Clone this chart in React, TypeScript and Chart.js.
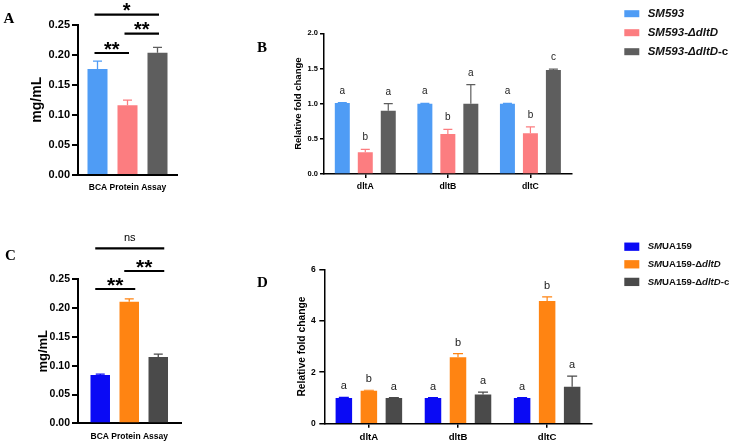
import React, { useEffect, useRef } from 'react';
import { Chart, registerables } from 'chart.js';

Chart.register(...registerables);

const SANS = '"Liberation Sans", Arial, Helvetica, sans-serif';
const SERIF = '"Liberation Serif", "Times New Roman", serif';

// ---------------- data ----------------
const assayLabel = ['BCA Protein Assay'];
const geneLabels = ['dltA', 'dltB', 'dltC'];

// SM593 background
const sm593Bca = [0.176, 0.116, 0.203];
const sm593BcaSd = [0.013, 0.0085, 0.009];
const sm593WtFold = [1.01, 1.0, 1.0];
const sm593WtFoldSd = [0.004, 0.003, 0.003];
const sm593MutFold = [0.31, 0.57, 0.58];
const sm593MutFoldSd = [0.04, 0.065, 0.09];
const sm593CompFold = [0.9, 1.0, 1.48];
const sm593CompFoldSd = [0.1, 0.27, 0.012];
const sm593WtGroups = ['a', 'a', 'a'];
const sm593MutGroups = ['b', 'b', 'b'];
const sm593CompGroups = ['a', 'a', 'c'];

// UA159 background
const ua159Bca = [0.084, 0.211, 0.115];
const ua159BcaSd = [0.0012, 0.005, 0.005];
const ua159WtFold = [1.0, 1.0, 1.0];
const ua159WtFoldSd = [0.02, 0.01, 0.01];
const ua159MutFold = [1.28, 2.58, 4.77];
const ua159MutFoldSd = [0.02, 0.14, 0.16];
const ua159CompFold = [1.0, 1.13, 1.44];
const ua159CompFoldSd = [0.01, 0.1, 0.41];
const ua159WtGroups = ['a', 'a', 'a'];
const ua159MutGroups = ['b', 'b', 'b'];
const ua159CompGroups = ['a', 'a', 'a'];

type Run = [string, boolean]; // [text, italic]

const sm593Names: Run[][] = [
  [['SM593', true]],
  [['SM593-ΔdltD', true]],
  [['SM593-ΔdltD', true], ['-c', false]],
];
const ua159Names: Run[][] = [
  [['SM', true], ['UA159', false]],
  [['SM', true], ['UA159-Δ', false], ['dltD', true]],
  [['SM', true], ['UA159-Δ', false], ['dltD', true], ['-c', false]],
];

const sm593Colors = ['#4f9cf5', '#fc7d80', '#5e5e5e'];
const ua159Colors = ['#0a0af5', '#ff8412', '#4a4a4a'];

interface Bracket { from: number; to: number; label: string }
const sm593BcaPairs: Bracket[] = [
  { from: 0, to: 1, label: '**' },
  { from: 1, to: 2, label: '**' },
  { from: 0, to: 2, label: '*' },
];
const ua159BcaPairs: Bracket[] = [
  { from: 0, to: 1, label: '**' },
  { from: 1, to: 2, label: '**' },
  { from: 0, to: 2, label: 'ns' },
];

// ---------------- panel layout ----------------
interface Series { name: Run[]; color: string; values: number[]; errors: number[]; groups?: string[] }

interface PanelSpec {
  tag: string; tagX: number; tagY: number;
  box: { x: number; y: number; w: number; h: number };
  plot: { left: number; right: number; top: number; bottom: number };
  categories: string[];
  series: Series[];
  yMax: number; yStep: number; decimals: number;
  yTitle: string; yTitleSize: number; yTitleX: number;
  tickSize: number; tickLen: number; tickPad: number;
  xSize: number; xTickLen: number; xPad: number;
  axisWidth: number;
  catPct: number; barPct: number;
  errWidth: number; cap: number;
  groupSize?: number; groupGap?: number;
  brackets?: Bracket[]; bracketRows?: number[]; bracketReach?: [number, number]; starSize?: number;
  legend?: { boxX: number; rowY: number; rowGap: number; boxW: number; boxH: number; textX: number; size: number };
}

function bcaSeries(values: number[], errors: number[], names: Run[][], colors: string[]): Series[] {
  return values.map((v, i) => ({ name: names[i], color: colors[i], values: [v], errors: [errors[i]] }));
}

const panelA: PanelSpec = {
  tag: 'A', tagX: 3.5, tagY: 23.3,
  box: { x: 0, y: 0, w: 250, h: 220 },
  plot: { left: 78, right: 177, top: 24.5, bottom: 175 },
  categories: assayLabel,
  series: bcaSeries(sm593Bca, sm593BcaSd, sm593Names, sm593Colors),
  yMax: 0.25, yStep: 0.05, decimals: 2,
  yTitle: 'mg/mL', yTitleSize: 14, yTitleX: 37,
  tickSize: 11, tickLen: 6, tickPad: 2,
  xSize: 8.5, xTickLen: 0, xPad: 7.5,
  axisWidth: 2,
  catPct: 0.909, barPct: 0.667,
  errWidth: 1.3, cap: 9,
  brackets: sm593BcaPairs, bracketRows: [53, 33.7, 14.7], bracketReach: [-3, 1.5], starSize: 20,
};

const panelB: PanelSpec = {
  tag: 'B', tagX: 257, tagY: 52,
  box: { x: 250, y: 0, w: 484, h: 220 },
  plot: { left: 324, right: 571.7, top: 33.3, bottom: 174 },
  categories: geneLabels,
  series: [
    { name: sm593Names[0], color: sm593Colors[0], values: sm593WtFold, errors: sm593WtFoldSd, groups: sm593WtGroups },
    { name: sm593Names[1], color: sm593Colors[1], values: sm593MutFold, errors: sm593MutFoldSd, groups: sm593MutGroups },
    { name: sm593Names[2], color: sm593Colors[2], values: sm593CompFold, errors: sm593CompFoldSd, groups: sm593CompGroups },
  ],
  yMax: 2, yStep: 0.5, decimals: 1,
  yTitle: 'Relative fold change', yTitleSize: 9.5, yTitleX: 298,
  tickSize: 7.5, tickLen: 4, tickPad: 2,
  xSize: 8.7, xTickLen: 4, xPad: 3.5,
  axisWidth: 1.5,
  catPct: 0.835, barPct: 0.652,
  errWidth: 1.2, cap: 9,
  groupSize: 10, groupGap: 9,
  legend: { boxX: 624.3, rowY: 13.7, rowGap: 19, boxW: 15, boxH: 7, textX: 647.7, size: 11.5 },
};

const panelC: PanelSpec = {
  tag: 'C', tagX: 5, tagY: 259.5,
  box: { x: 0, y: 220, w: 250, h: 222 },
  plot: { left: 78, right: 180.5, top: 279.3, bottom: 423.3 },
  categories: assayLabel,
  series: bcaSeries(ua159Bca, ua159BcaSd, ua159Names, ua159Colors),
  yMax: 0.25, yStep: 0.05, decimals: 2,
  yTitle: 'mg/mL', yTitleSize: 13, yTitleX: 43,
  tickSize: 10.5, tickLen: 6, tickPad: 2,
  xSize: 8.5, xTickLen: 0, xPad: 8.7,
  axisWidth: 2,
  catPct: 0.849, barPct: 0.672,
  errWidth: 1.3, cap: 9,
  brackets: ua159BcaPairs, bracketRows: [289, 271, 248.3], bracketReach: [-5, 6], starSize: 21,
};

const panelD: PanelSpec = {
  tag: 'D', tagX: 257, tagY: 287,
  box: { x: 250, y: 220, w: 484, h: 222 },
  plot: { left: 324.3, right: 591.7, top: 269.3, bottom: 423.7 },
  categories: geneLabels,
  series: [
    { name: ua159Names[0], color: ua159Colors[0], values: ua159WtFold, errors: ua159WtFoldSd, groups: ua159WtGroups },
    { name: ua159Names[1], color: ua159Colors[1], values: ua159MutFold, errors: ua159MutFoldSd, groups: ua159MutGroups },
    { name: ua159Names[2], color: ua159Colors[2], values: ua159CompFold, errors: ua159CompFoldSd, groups: ua159CompGroups },
  ],
  yMax: 6, yStep: 2, decimals: 0,
  yTitle: 'Relative fold change', yTitleSize: 10.3, yTitleX: 302.3,
  tickSize: 8.5, tickLen: 5, tickPad: 3.5,
  xSize: 9.6, xTickLen: 4, xPad: 3.7,
  axisWidth: 1.5,
  catPct: 0.842, barPct: 0.66,
  errWidth: 1.2, cap: 10,
  groupSize: 11, groupGap: 8,
  legend: { boxX: 624.3, rowY: 246.7, rowGap: 17.6, boxW: 15, boxH: 8.3, textX: 647.7, size: 9.6 },
};

const panels = [panelA, panelB, panelC, panelD];

// ---------------- chart construction ----------------
function buildChart(canvas: HTMLCanvasElement, s: PanelSpec): Chart {
  const ox = s.box.x;
  const oy = s.box.y;
  const yWidth = s.plot.left - ox;
  const padTop = s.plot.top - oy;
  const padRight = ox + s.box.w - s.plot.right;
  const xHeight = oy + s.box.h - s.plot.bottom;
  const titleFont = { family: SANS, size: s.yTitleSize, weight: 'bold' as const, lineHeight: 1.2 };
  const titleOffset = s.yTitleX - ox - (s.yTitleSize * 1.2) / 2;

  const extras = {
    id: 'panelExtras',
    afterDatasetsDraw(chart: any) {
      const ctx: CanvasRenderingContext2D = chart.ctx;
      const yScale = chart.scales.y;
      s.series.forEach((se, di) => {
        const meta = chart.getDatasetMeta(di);
        meta.data.forEach((bar: any, i: number) => {
          const top = yScale.getPixelForValue(se.values[i] + se.errors[i]);
          ctx.save();
          ctx.strokeStyle = se.color;
          ctx.lineWidth = s.errWidth;
          ctx.beginPath();
          ctx.moveTo(bar.x, bar.y);
          ctx.lineTo(bar.x, top);
          ctx.moveTo(bar.x - s.cap / 2, top);
          ctx.lineTo(bar.x + s.cap / 2, top);
          ctx.stroke();
          if (se.groups) {
            ctx.fillStyle = '#222';
            ctx.font = `${s.groupSize}px ${SANS}`;
            ctx.textAlign = 'center';
            ctx.textBaseline = 'alphabetic';
            ctx.fillText(se.groups[i], bar.x, top - (s.groupGap || 8));
          }
          ctx.restore();
        });
      });
    },
    afterDraw(chart: any) {
      const ctx: CanvasRenderingContext2D = chart.ctx;
      ctx.save();
      // significance brackets
      if (s.brackets && s.bracketRows && s.bracketReach) {
        s.brackets.forEach((b, r) => {
          const xa = chart.getDatasetMeta(b.from).data[0].x + s.bracketReach![0];
          const xb = chart.getDatasetMeta(b.to).data[0].x + s.bracketReach![1];
          const ly = s.bracketRows![r] - oy;
          ctx.strokeStyle = '#000';
          ctx.lineWidth = 2.2;
          ctx.beginPath();
          ctx.moveTo(xa, ly);
          ctx.lineTo(xb, ly);
          ctx.stroke();
          ctx.fillStyle = '#000';
          ctx.textAlign = 'center';
          ctx.textBaseline = 'alphabetic';
          if (b.label.includes('*')) {
            ctx.font = `bold ${s.starSize}px ${SANS}`;
            ctx.fillText(b.label, (xa + xb) / 2, ly + 2.5);
          } else {
            ctx.font = `11px ${SANS}`;
            ctx.fillText(b.label, (xa + xb) / 2, ly - 7);
          }
        });
      }
      // legend
      if (s.legend) {
        const L = s.legend;
        s.series.forEach((se, i) => {
          const cy = L.rowY + i * L.rowGap - oy;
          ctx.fillStyle = se.color;
          ctx.fillRect(L.boxX - ox, cy - L.boxH / 2, L.boxW, L.boxH);
          let tx = L.textX - ox;
          ctx.fillStyle = '#111';
          ctx.textAlign = 'left';
          ctx.textBaseline = 'middle';
          se.name.forEach(([t, it]) => {
            ctx.font = `${it ? 'italic ' : ''}bold ${L.size}px ${SANS}`;
            ctx.fillText(t, tx, cy);
            tx += ctx.measureText(t).width;
          });
        });
      }
      // panel tag
      ctx.fillStyle = '#000';
      ctx.font = `bold 15px ${SERIF}`;
      ctx.textAlign = 'left';
      ctx.textBaseline = 'alphabetic';
      ctx.fillText(s.tag, s.tagX - ox, s.tagY - oy);
      ctx.restore();
    },
  };

  return new Chart(canvas, {
    type: 'bar',
    data: {
      labels: s.categories,
      datasets: s.series.map((se) => ({
        label: se.name.map((r) => r[0]).join(''),
        data: se.values,
        backgroundColor: se.color,
        borderWidth: 0,
        categoryPercentage: s.catPct,
        barPercentage: s.barPct,
      })),
    },
    options: {
      responsive: false,
      maintainAspectRatio: false,
      animation: false,
      devicePixelRatio: 1,
      events: [],
      layout: { padding: { left: 0, top: padTop, right: padRight, bottom: 0 } },
      plugins: {
        legend: { display: false },
        tooltip: { enabled: false },
        title: { display: false },
      },
      scales: {
        x: {
          offset: true,
          ticks: { color: '#000', padding: s.xPad, font: { family: SANS, size: s.xSize, weight: 'bold' } },
          grid: {
            display: true,
            drawOnChartArea: false,
            drawTicks: s.xTickLen > 0,
            tickLength: s.xTickLen,
            offset: false,
            color: '#000',
            lineWidth: s.axisWidth,
          },
          border: { display: true, color: '#000', width: s.axisWidth },
          afterFit: (sc: any) => { sc.height = xHeight; },
        },
        y: {
          min: 0,
          max: s.yMax,
          ticks: {
            stepSize: s.yStep,
            color: '#000',
            padding: s.tickPad,
            font: { family: SANS, size: s.tickSize, weight: 'bold' },
            callback: (v: any) => Number(v).toFixed(s.decimals),
          },
          grid: {
            display: true,
            drawOnChartArea: false,
            drawTicks: true,
            tickLength: s.tickLen,
            color: '#000',
            lineWidth: s.axisWidth,
          },
          border: { display: true, color: '#000', width: s.axisWidth },
          title: {
            display: true,
            text: s.yTitle,
            color: '#000',
            font: titleFont,
            padding: { top: titleOffset, bottom: 0 },
          },
          afterFit: (sc: any) => { sc.width = yWidth; },
        },
      },
    } as any,
    plugins: [extras],
  });
}

function Panel({ spec }: { spec: PanelSpec }) {
  const ref = useRef<HTMLCanvasElement>(null);
  useEffect(() => {
    const chart = buildChart(ref.current!, spec);
    return () => chart.destroy();
  }, [spec]);
  return (
    <canvas
      ref={ref}
      width={spec.box.w}
      height={spec.box.h}
      style={{ position: 'absolute', left: spec.box.x, top: spec.box.y, width: spec.box.w, height: spec.box.h }}
    />
  );
}

export default function App() {
  return (
    <div style={{ position: 'absolute', left: 0, top: 0, width: 734, height: 442, background: '#fff', overflow: 'hidden' }}>
      {panels.map((p) => (
        <Panel key={p.tag} spec={p} />
      ))}
    </div>
  );
}
